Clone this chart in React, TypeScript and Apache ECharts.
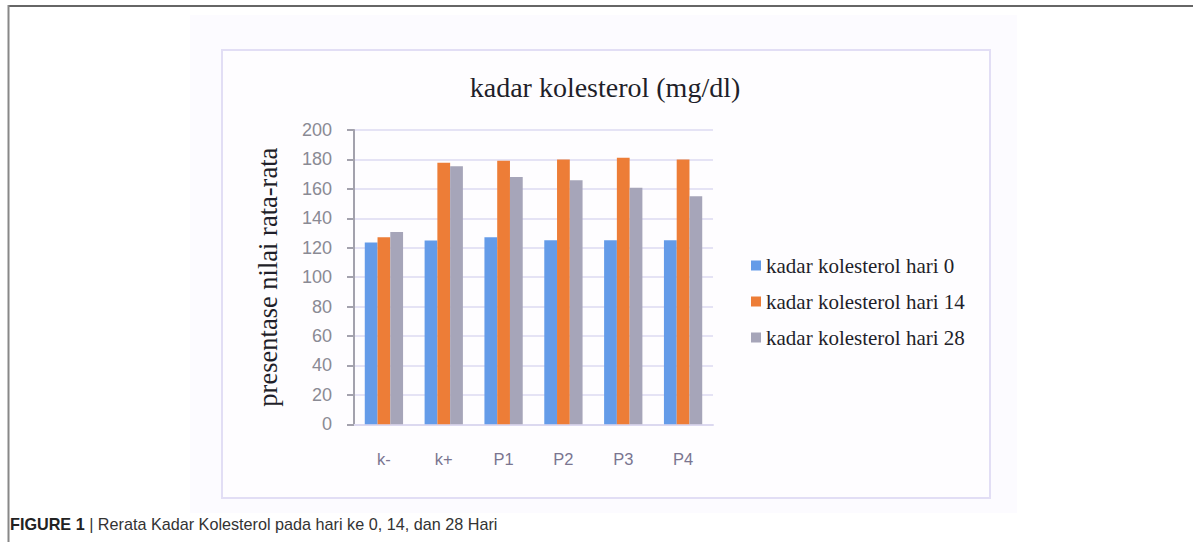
import React, { useEffect, useRef } from "react";
import * as echarts from "echarts";

const categories = ["k-", "k+", "P1", "P2", "P3", "P4"];
const seriesNames = [
  "kadar kolesterol hari 0",
  "kadar kolesterol hari 14",
  "kadar kolesterol hari 28",
];
const day0 = [123.6, 124.9, 127.2, 125, 125, 125];
const day14 = [127.2, 177.8, 179.1, 180, 181.2, 180];
const day28 = [130.6, 175.3, 168, 165.8, 160.8, 154.9];
const titleText = "kadar kolesterol (mg/dl)";
const yAxisName = "presentase nilai rata-rata";
const captionBold = "FIGURE 1";
const captionRest = " | Rerata Kadar Kolesterol pada hari ke 0, 14, dan 28 Hari";

const colors = ["#649BE8", "#ED7D37", "#A6A5B9"];
const serif = "'Liberation Serif', 'DejaVu Serif', serif";
const sans = "'Liberation Sans', Arial, sans-serif";

export default function App() {
  const ref = useRef<HTMLDivElement>(null);
  useEffect(() => {
    if (!ref.current) return;
    const chart = echarts.init(ref.current, null, { renderer: "svg" });
    const values = [day0, day14, day28];
    chart.setOption({
      animation: false,
      backgroundColor: "#ffffff",
      title: {
        text: titleText,
        left: 600,
        top: 68,
        textAlign: "center",
        textStyle: {
          fontFamily: serif,
          fontSize: 28,
          fontWeight: "normal",
          color: "#1f1f2a",
        },
      },
      legend: {
        orient: "vertical",
        left: 746,
        top: 250,
        itemWidth: 10,
        itemHeight: 10,
        itemGap: 15,
        icon: "rect",
        textStyle: {
          fontFamily: serif,
          fontSize: 21,
          color: "#1f1f2a",
          padding: [0, 0, 0, 0],
        },
        data: seriesNames,
      },
      grid: {
        left: 354,
        top: 130,
        width: 359,
        height: 294.3,
        containLabel: false,
      },
      xAxis: {
        type: "category",
        data: categories,
        axisLine: { show: true, lineStyle: { color: "#dcd9f0", width: 2 } },
        axisTick: { show: false },
        axisLabel: {
          margin: 26,
          fontFamily: sans,
          fontSize: 16.5,
          color: "#7a7590",
        },
      },
      yAxis: {
        type: "value",
        min: 0,
        max: 200,
        interval: 20,
        name: yAxisName,
        nameLocation: "middle",
        nameGap: 73,
        nameTextStyle: {
          fontFamily: serif,
          fontSize: 26.5,
          color: "#1f1f2a",
        },
        axisLine: { show: true, lineStyle: { color: "#a3a2ad", width: 2 } },
        axisTick: {
          show: true,
          inside: false,
          length: 7,
          lineStyle: { color: "#a3a2ad", width: 2 },
        },
        axisLabel: {
          margin: 22,
          fontFamily: sans,
          fontSize: 18,
          color: "#8a8a94",
        },
        splitLine: { show: true, lineStyle: { color: "#dcdaf2", width: 1.5 } },
      },
      series: seriesNames.map((name, i) => ({
        name,
        type: "bar",
        data: values[i],
        barGap: "0%",
        barCategoryGap: "36%",
        itemStyle: { color: colors[i] },
      })),
      graphic: [
        {
          type: "rect",
          z: -10,
          silent: true,
          shape: { x: 190, y: 15, width: 827, height: 498 },
          style: { fill: "#fcfbff" },
        },
        {
          type: "rect",
          z: -9,
          silent: true,
          shape: { x: 222, y: 50, width: 768, height: 448 },
          style: { fill: "#fefdff", stroke: "#e2def5", lineWidth: 2 },
        },
        {
          type: "line",
          silent: true,
          shape: { x1: 8, y1: 6, x2: 1193, y2: 6 },
          style: { stroke: "#666666", lineWidth: 2 },
        },
        {
          type: "line",
          silent: true,
          shape: { x1: 8.5, y1: 5, x2: 8.5, y2: 542 },
          style: { stroke: "#888888", lineWidth: 2 },
        },
        {
          type: "text",
          silent: true,
          x: 10,
          y: 524,
          style: {
            text: "{b|" + captionBold + "}{r|" + captionRest + "}",
            verticalAlign: "middle",
            rich: {
              b: {
                fontFamily: sans,
                fontSize: 16.2,
                fontWeight: "bold",
                fill: "#222222",
              },
              r: {
                fontFamily: sans,
                fontSize: 16.2,
                fill: "#333333",
              },
            },
          },
        },
      ],
    });
    return () => chart.dispose();
  }, []);
  return (
    <div
      ref={ref}
      style={{ position: "fixed", left: 0, top: 0, width: 1193, height: 542 }}
    />
  );
}
